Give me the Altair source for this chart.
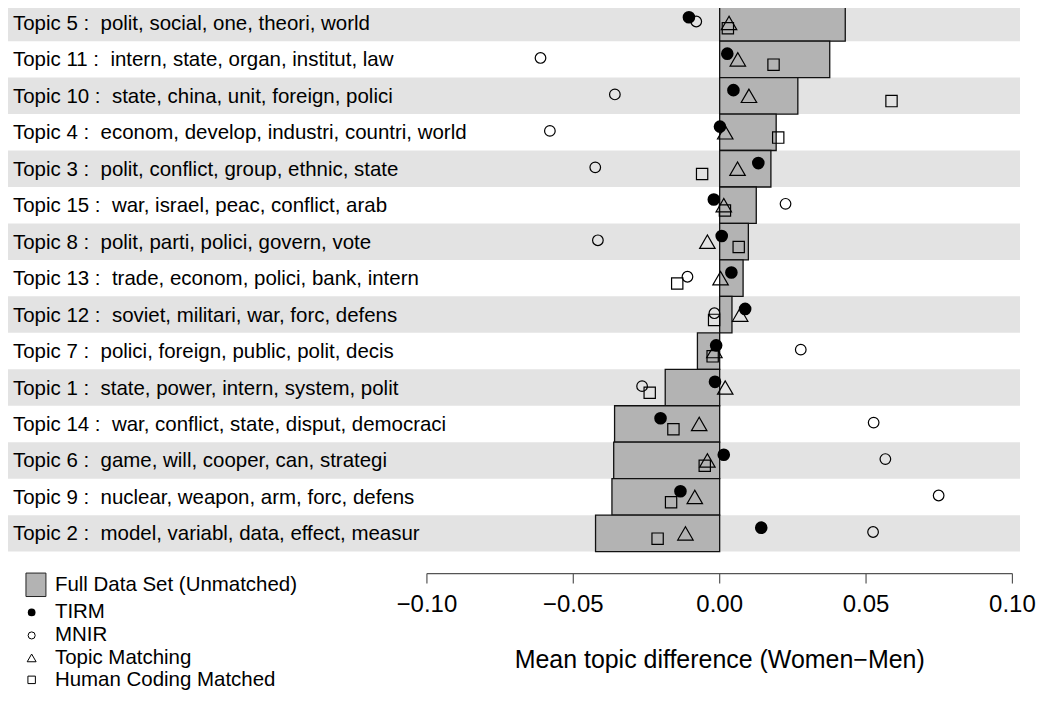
import altair as alt
import pandas as pd

# ---- data ----
topic_ids = ["Topic 5", "Topic 11", "Topic 10", "Topic 4", "Topic 3", "Topic 15",
             "Topic 8", "Topic 13", "Topic 12", "Topic 7", "Topic 1", "Topic 14",
             "Topic 6", "Topic 9", "Topic 2"]
topic_words = [
    "polit, social, one, theori, world",
    "intern, state, organ, institut, law",
    "state, china, unit, foreign, polici",
    "econom, develop, industri, countri, world",
    "polit, conflict, group, ethnic, state",
    "war, israel, peac, conflict, arab",
    "polit, parti, polici, govern, vote",
    "trade, econom, polici, bank, intern",
    "soviet, militari, war, forc, defens",
    "polici, foreign, public, polit, decis",
    "state, power, intern, system, polit",
    "war, conflict, state, disput, democraci",
    "game, will, cooper, can, strategi",
    "nuclear, weapon, arm, forc, defens",
    "model, variabl, data, effect, measur",
]
full_data = [0.0429, 0.0376, 0.0267, 0.0193, 0.0175, 0.0125, 0.0098, 0.0080,
             0.0042, -0.0076, -0.0186, -0.0359, -0.0362, -0.0368, -0.0424]
tirm = [-0.0105, 0.0026, 0.0047, 0.0001, 0.0132, -0.0020, 0.0007, 0.0040,
        0.0087, -0.0012, -0.0016, -0.0202, 0.0014, -0.0134, 0.0142]
mnir = [-0.0080, -0.0612, -0.0358, -0.0580, -0.0425, 0.0225, -0.0416, -0.0110,
        -0.0018, 0.0277, -0.0265, 0.0526, 0.0566, 0.0748, 0.0524]
topic_matching = [0.0032, 0.0062, 0.0100, 0.0019, 0.0061, 0.0014, -0.0042, 0.0003,
                  0.0070, -0.0018, 0.0019, -0.0070, -0.0042, -0.0085, -0.0117]
human_coding = [0.0028, 0.0184, 0.0587, 0.0200, -0.0060, 0.0018, 0.0065, -0.0145,
                -0.0019, -0.0024, -0.0239, -0.0158, -0.0051, -0.0166, -0.0212]

tick_values = [-0.10, -0.05, 0.00, 0.05, 0.10]
tick_labels = ["\u22120.10", "\u22120.05", "0.00", "0.05", "0.10"]
x_title = "Mean topic difference (Women\u2212Men)"
legend_labels = ["Full Data Set (Unmatched)", "TIRM", "MNIR", "Topic Matching",
                 "Human Coding Matched"]

# ---- layout ----
W, H = 1014, 548
FONT = "Liberation Sans"
AXIS_Y = 570

topics = [f"{a} :\u00a0 {b}" for a, b in zip(topic_ids, topic_words)]

df = pd.DataFrame({
    "topic": topics,
    "full": full_data,
    "tirm": tirm,
    "mnir": mnir,
    "tm": topic_matching,
    "hc": human_coding,
    "stripe": [i % 2 == 0 for i in range(len(topics))],
})

xscale = alt.Scale(domain=[-0.2431, 0.1026], nice=False, zero=False)
yenc = alt.Y("topic:N", sort=topics, axis=None,
             scale=alt.Scale(paddingInner=0, paddingOuter=0))

base = alt.Chart(df)

stripes = base.transform_filter("datum.stripe").mark_rect(
    fill="#e3e3e3"
).encode(x=alt.value(0), x2=alt.value(W), y=yenc)

bars = base.mark_rect(fill="#b3b3b3", stroke="#111111", strokeWidth=1.3).encode(
    x=alt.X("full:Q", scale=xscale, axis=None), x2=alt.datum(0), y=yenc
)

labels = base.mark_text(align="left", baseline="middle", font=FONT, fontSize=20.5,
                        color="black", dy=1).encode(
    x=alt.value(5), y=yenc, text="topic:N"
)

def pts(field, shape, size, filled, yoff, sw=1.2):
    return base.mark_point(shape=shape, size=size, filled=filled,
                           color="black", opacity=1, strokeWidth=sw,
                           yOffset=yoff).encode(
        x=alt.X(f"{field}:Q", scale=xscale, axis=None), y=yenc
    )

sq = pts("hc", "square", 128, False, 5.3)
tri = pts("tm", "triangle-up", 240, False, 0)
mn = pts("mnir", "circle", 113, False, -1.4)
ti = pts("tirm", "circle", 160, True, -5.7, 0)

# ---- manual R-style axis ----
tick_df = pd.DataFrame({"v": tick_values, "lab": tick_labels})
axis_line = alt.Chart(pd.DataFrame({"a": [tick_values[0]], "b": [tick_values[-1]]})).mark_rule(
    color="#555555", strokeWidth=1.2
).encode(x=alt.X("a:Q", scale=xscale, axis=None), x2="b:Q", y=alt.value(AXIS_Y))
axis_ticks = alt.Chart(tick_df).mark_rule(color="#555555", strokeWidth=1.2).encode(
    x=alt.X("v:Q", scale=xscale, axis=None), y=alt.value(AXIS_Y), y2=alt.value(AXIS_Y + 10)
)
axis_labels = alt.Chart(tick_df).mark_text(
    font=FONT, fontSize=24, baseline="alphabetic", align="center", color="black"
).encode(x=alt.X("v:Q", scale=xscale, axis=None), y=alt.value(608.5), text="lab:N")
axis_title = alt.Chart(pd.DataFrame({"t": [x_title], "v": [0.0]})).mark_text(
    font=FONT, fontSize=25, baseline="alphabetic", align="center", color="black"
).encode(x=alt.X("v:Q", scale=xscale, axis=None), y=alt.value(665), text="t:N")

# ---- manual legend ----
leg_y = [581.5, 609, 632, 654.5, 676.5]
leg_df = pd.DataFrame({"lab": legend_labels, "y": leg_y})
leg_text = alt.Chart(leg_df).mark_text(
    font=FONT, fontSize=20.5, align="left", baseline="middle", color="black"
).encode(x=alt.value(47), y=alt.Y("y:Q", scale=None), text="lab:N")

leg_box = alt.Chart(pd.DataFrame({"k": [legend_labels[0]]})).mark_rect(
    fill="#b3b3b3", stroke="#222222", strokeWidth=1
).encode(x=alt.value(18), x2=alt.value(38), y=alt.value(569.5), y2=alt.value(593))

def leg_pt(label, shape, size, filled, yy):
    return alt.Chart(pd.DataFrame({"k": [label]})).mark_point(
        shape=shape, size=size, filled=filled, color="black", opacity=1, strokeWidth=1
    ).encode(x=alt.value(23.7), y=alt.value(yy))

leg_pts = [
    leg_pt(legend_labels[1], "circle", 60, True, leg_y[1]),
    leg_pt(legend_labels[2], "circle", 50, False, leg_y[2]),
    leg_pt(legend_labels[3], "triangle-up", 80, False, leg_y[3]),
    leg_pt(legend_labels[4], "square", 56, False, leg_y[4]),
]

chart = alt.layer(
    stripes, bars, labels, sq, tri, mn, ti,
    axis_line, axis_ticks, axis_labels, axis_title,
    leg_text, leg_box, *leg_pts
).properties(
    width=W, height=H,
    padding={"top": -5, "left": 0, "right": 0, "bottom": 0},
).configure_view(stroke=None)

chart.save("out.html", embed_options={"renderer": "svg", "actions": False})
